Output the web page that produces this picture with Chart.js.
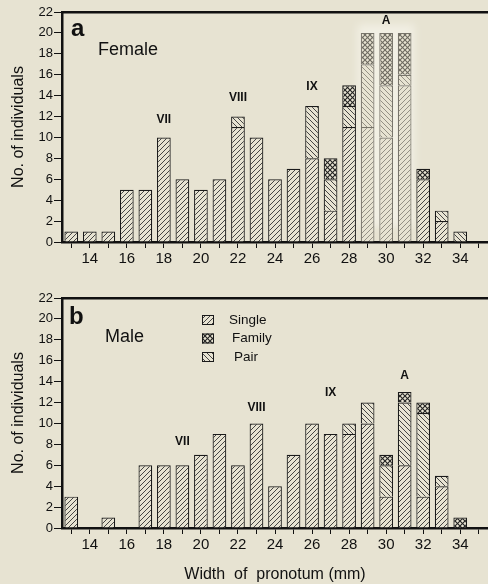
<!DOCTYPE html>
<html>
<head>
<meta charset="utf-8">
<script src="https://cdn.jsdelivr.net/npm/chart.js@4.4.0/dist/chart.umd.min.js"></script>
<style>
    body { margin: 0; background: #e7e3d2; width: 488px; height: 584px; overflow: hidden; }
    .panel { position: absolute; left: 0; width: 488px; }
</style>
</head>
<body>
<div class="panel" style="top:0;height:272px"><canvas id="chartA"></canvas></div>
<div class="panel" style="top:286px;height:298px"><canvas id="chartB"></canvas></div>
<script>
// width of pronotum (mm), one bar per mm
const widths = ['13','14','15','16','17','18','19','20','21','22','23','24','25','26','27','28','29','30','31','32','33','34','35'];

// a: females
const femaleSingle = [1,1,1,5,5,10,6,5,6,11,10,6,7,8,3,11,11,10,15,6,2,0,0];
const femalePair   = [0,0,0,0,0,0,0,0,0,1,0,0,0,5,3,2,6,5,1,0,1,1,0];
const femaleFamily = [0,0,0,0,0,0,0,0,0,0,0,0,0,0,2,2,3,5,4,1,0,0,0];

// b: males
const maleSingle = [3,0,1,0,6,6,6,7,9,6,10,4,7,10,9,9,10,3,6,3,4,0,0];
const malePair   = [0,0,0,0,0,0,0,0,0,0,0,0,0,0,0,1,2,3,6,8,1,0,0];
const maleFamily = [0,0,0,0,0,0,0,0,0,0,0,0,0,0,0,0,0,1,1,1,0,1,0];

// instar labels: [category, y value, text]
const femaleInstars = [['18', 11.7, 'VII'], ['22', 13.8, 'VIII'], ['26', 14.9, 'IX'], ['30', 21.2, 'A']];
const maleInstars   = [['19', 8.3, 'VII'], ['23', 11.5, 'VIII'], ['27', 12.9, 'IX'], ['31', 14.6, 'A']];

const yTicks = [0,2,4,6,8,10,12,14,16,18,20,22];

const FONT = '"Liberation Sans", Arial, sans-serif';
const BG = '#e7e3d2';

// hatch patterns
function makePattern(kind, lineColor) {
    const s = 5;
    const c = document.createElement('canvas');
    c.width = s; c.height = s;
    const g = c.getContext('2d');
    g.fillStyle = BG;
    g.fillRect(0, 0, s, s);
    g.strokeStyle = lineColor;
    g.lineWidth = 0.9;
    const fwd = () => {
        g.beginPath();
        g.moveTo(0, s); g.lineTo(s, 0);
        g.moveTo(-1, 1); g.lineTo(1, -1);
        g.moveTo(s - 1, s + 1); g.lineTo(s + 1, s - 1);
        g.stroke();
    };
    const back = () => {
        g.beginPath();
        g.moveTo(0, 0); g.lineTo(s, s);
        g.moveTo(-1, s - 1); g.lineTo(1, s + 1);
        g.moveTo(s - 1, -1); g.lineTo(s + 1, 1);
        g.stroke();
    };
    if (kind === 'single') fwd();
    if (kind === 'pair') back();
    if (kind === 'family') { g.lineWidth = 1.1; fwd(); back(); }
    return g.createPattern(c, 'repeat');
}

const patterns = {
    single: makePattern('single', '#333'),
    pair: makePattern('pair', '#333'),
    family: makePattern('family', '#222'),
    singleFaded: makePattern('single', '#8a877c'),
    pairFaded: makePattern('pair', '#8a877c'),
    familyFaded: makePattern('family', '#6e6b62')
};

// faded (taped over) bars in panel a
const fadedCats = ['29', '30', '31'];

function dataset(label, data, kind, fade) {
    return {
        label: label,
        data: data,
        backgroundColor: ctx => (fade && fadedCats.includes(widths[ctx.dataIndex])) ? patterns[kind + 'Faded'] : patterns[kind],
        borderColor: ctx => (fade && fadedCats.includes(widths[ctx.dataIndex])) ? '#77746a' : '#1a1a1a',
        borderWidth: 1.2,
        barPercentage: 0.74,
        categoryPercentage: 1.0
    };
}

const overlayPlugin = {
    id: 'overlay',
    beforeDatasetsDraw(chart, args, opts) {
        if (!opts.glow) return;
        const x = chart.scales.x, y = chart.scales.y, ctx = chart.ctx;
        ctx.save();
        ctx.filter = 'blur(4px)';
        ctx.fillStyle = 'rgba(255,255,250,0.45)';
        const x0 = x.getPixelForValue(16) - 10, x1 = x.getPixelForValue(18) + 10;
        ctx.fillRect(x0, y.getPixelForValue(20.8), x1 - x0, y.getPixelForValue(1.5) - y.getPixelForValue(20.8));
        ctx.restore();
    },
    afterDatasetsDraw(chart, args, opts) {
        const x = chart.scales.x, y = chart.scales.y, ctx = chart.ctx;
        ctx.save();
        ctx.fillStyle = '#111';
        ctx.textBaseline = 'middle';
        // panel letter and sex
        ctx.textAlign = 'left';
        ctx.font = 'bold 24px ' + FONT;
        ctx.fillText(opts.letter, opts.letterX, opts.letterY);
        ctx.font = '18px ' + FONT;
        ctx.fillText(opts.sex, opts.sexX, opts.sexY);
        // instar labels
        ctx.textAlign = 'center';
        ctx.font = 'bold 12px ' + FONT;
        opts.instars.forEach(([cat, v, t]) => {
            ctx.fillText(t, x.getPixelForValue(widths.indexOf(cat)), y.getPixelForValue(v));
        });
        // legend
        if (opts.legend) {
            ctx.textAlign = 'left';
            ctx.font = '13.5px ' + FONT;
            const items = [['Single', 'single', 229], ['Family', 'family', 232], ['Pair', 'pair', 234]];
            items.forEach(([name, kind, tx], i) => {
                const cy = opts.legendY + i * 18.5;
                ctx.fillStyle = patterns[kind];
                ctx.fillRect(202, cy - 5, 12, 10);
                ctx.strokeStyle = '#1a1a1a';
                ctx.lineWidth = 1;
                ctx.strokeRect(202.5, cy - 4.5, 11, 9);
                ctx.fillStyle = '#111';
                ctx.fillText(name, tx, cy);
            });
        }
        ctx.restore();
    }
};

function makeChart(id, single, pair, family, fade, xHeight, withTitle, overlay) {
    return new Chart(document.getElementById(id), {
        type: 'bar',
        data: {
            labels: widths,
            datasets: [
                dataset('Single', single, 'single', fade),
                dataset('Pair', pair, 'pair', fade),
                dataset('Family', family, 'family', fade)
            ]
        },
        options: {
            responsive: true,
            maintainAspectRatio: false,
            animation: false,
            layout: { padding: { top: 12, left: 0, right: 0, bottom: 0 } },
            plugins: {
                legend: { display: false },
                tooltip: { enabled: false },
                overlay: overlay
            },
            scales: {
                x: {
                    stacked: true,
                    offset: true,
                    grid: { offset: false, drawOnChartArea: false, drawTicks: true, tickLength: 6, color: '#111', lineWidth: 1 },
                    border: { display: true, color: '#111', width: 2.5 },
                    ticks: {
                        autoSkip: false,
                        maxRotation: 0,
                        padding: 2,
                        color: '#111',
                        font: { family: FONT, size: 15 },
                        callback: (v, i) => (+widths[i] % 2 === 0) ? widths[i] : ''
                    },
                    title: {
                        display: withTitle,
                        text: 'Width  of  pronotum (mm)',
                        color: '#111',
                        font: { family: FONT, size: 16 },
                        padding: { top: 3, bottom: 0 }
                    },
                    afterFit: s => { s.height = xHeight; }
                },
                xTop: {
                    position: 'top',
                    grid: { drawOnChartArea: false, drawTicks: false },
                    border: { display: true, color: '#111', width: 2.5 },
                    ticks: { display: false }
                },
                y: {
                    stacked: true,
                    min: 0,
                    max: 22,
                    afterBuildTicks: s => { s.ticks = yTicks.map(v => ({ value: v })); },
                    grid: { drawOnChartArea: false, drawTicks: true, tickLength: 8, color: '#111', lineWidth: 1 },
                    border: { display: true, color: '#111', width: 2.5 },
                    ticks: {
                        padding: 1,
                        color: '#111',
                        font: { family: FONT, size: 13 }
                    },
                    title: {
                        display: true,
                        text: 'No. of individuals',
                        color: '#111',
                        font: { family: FONT, size: 16 },
                        padding: { top: 9, bottom: 4 }
                    },
                    afterFit: s => { s.width = 62; }
                }
            }
        },
        plugins: [overlayPlugin]
    });
}

makeChart('chartA', femaleSingle, femalePair, femaleFamily, true, 30, false, {
    letter: 'a', letterX: 71, letterY: 29,
    sex: 'Female', sexX: 98, sexY: 50,
    instars: femaleInstars, legend: false, glow: true
});

makeChart('chartB', maleSingle, malePair, maleFamily, false, 56, true, {
    letter: 'b', letterX: 69, letterY: 31,
    sex: 'Male', sexX: 105, sexY: 51,
    instars: maleInstars, legend: true, legendY: 34, glow: false
});
</script>
</body>
</html>
